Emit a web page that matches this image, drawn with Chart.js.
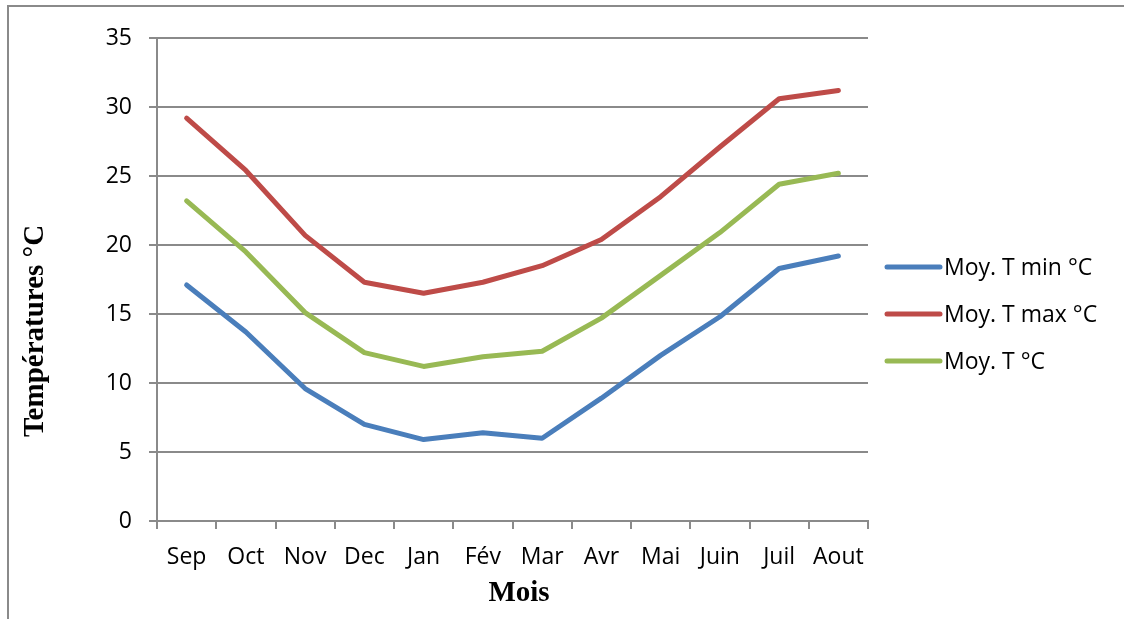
<!DOCTYPE html>
<html>
<head>
<meta charset="utf-8">
<script src="https://cdn.jsdelivr.net/npm/chart.js@4/dist/chart.umd.min.js"></script>
<style>
  html, body { margin: 0; padding: 0; background: #fff; }
  #wrap { position: relative; width: 1124px; height: 619px; overflow: hidden; }
  #frame { position: absolute; left: 7px; top: 5px; width: 1200px; height: 700px;
           border-left: 2px solid #8a8a8a; border-top: 2px solid #8a8a8a; }
  canvas { position: absolute; left: 0; top: 0; }
</style>
</head>
<body>
<div id="wrap">
  <div id="frame"></div>
  <canvas id="c" width="1124" height="619"></canvas>
</div>
<script>
// Monthly mean temperatures (°C), September to August
const months = ['Sep', 'Oct', 'Nov', 'Dec', 'Jan', 'Fév', 'Mar', 'Avr', 'Mai', 'Juin', 'Juil', 'Aout'];
const tMin = [17.1, 13.7, 9.6, 7.0, 5.9, 6.4, 6.0, 8.9, 12.0, 14.8, 18.3, 19.2];
const tMax = [29.2, 25.4, 20.7, 17.3, 16.5, 17.3, 18.5, 20.4, 23.5, 27.1, 30.6, 31.2];
const tMoy = [23.2, 19.5, 15.1, 12.2, 11.2, 11.9, 12.3, 14.7, 17.8, 20.9, 24.4, 25.2];
const seriesNames = ['Moy. T min °C', 'Moy. T max °C', 'Moy. T °C'];
const seriesColors = ['#4a7ebb', '#be4b48', '#98b954'];
const yTicksMin = 0, yTicksMax = 35, yStep = 5;
const xTitle = 'Mois';
const yTitle = 'Températures °C';

const tickFont = { family: "'Open Sans', 'Noto Sans', sans-serif", size: 23 };
const titleFont = "bold 29px 'Liberation Serif', 'DejaVu Serif', serif";
const gridColor = '#8a8a8a';

// Legend on the right and axis titles, drawn on the canvas
const extras = {
  id: 'extras',
  afterDraw(chart) {
    const ctx = chart.ctx;
    ctx.save();
    // legend
    chart.data.datasets.forEach((ds, i) => {
      const y = 267 + i * 47;
      ctx.strokeStyle = ds.borderColor;
      ctx.lineWidth = 5;
      ctx.lineCap = 'round';
      ctx.beginPath();
      ctx.moveTo(887, y);
      ctx.lineTo(940, y);
      ctx.stroke();
      ctx.fillStyle = '#000';
      ctx.font = tickFont.size + 'px ' + tickFont.family;
      ctx.textAlign = 'left';
      ctx.textBaseline = 'middle';
      ctx.fillText(ds.label, 944, y + 1);
    });
    // axis titles
    ctx.fillStyle = '#000';
    ctx.font = titleFont;
    ctx.textAlign = 'center';
    ctx.textBaseline = 'middle';
    ctx.fillText(xTitle, 519, 594);
    ctx.translate(36, 331);
    ctx.rotate(-Math.PI / 2);
    ctx.fillText(yTitle, 0, 0);
    ctx.restore();
  }
};

new Chart(document.getElementById('c'), {
  type: 'line',
  data: {
    labels: months,
    datasets: [tMin, tMax, tMoy].map((vals, i) => ({
      label: seriesNames[i],
      data: vals,
      borderColor: seriesColors[i],
      backgroundColor: seriesColors[i],
      borderWidth: 5,
      pointRadius: 0,
      pointHoverRadius: 0,
      tension: 0,
      borderCapStyle: 'round',
      borderJoinStyle: 'round',
      fill: false
    }))
  },
  options: {
    responsive: false,
    animation: false,
    devicePixelRatio: 1,
    layout: { padding: { top: 38, right: 256, left: 0, bottom: 0 } },
    plugins: { legend: { display: false }, tooltip: { enabled: false } },
    scales: {
      x: {
        type: 'category',
        offset: true,
        afterFit(s) { s.height = 98; },
        grid: { display: true, drawOnChartArea: false, offset: true, tickLength: 8, color: gridColor, lineWidth: 2 },
        border: { display: true, color: gridColor, width: 2 },
        ticks: { font: tickFont, color: '#000', padding: 15, maxRotation: 0, autoSkip: false }
      },
      y: {
        min: yTicksMin,
        max: yTicksMax,
        afterFit(s) { s.width = 157; },
        grid: { color: gridColor, lineWidth: 2, tickLength: 8 },
        border: { display: true, color: gridColor, width: 2 },
        ticks: { stepSize: yStep, font: tickFont, color: '#000', padding: 17 }
      }
    }
  },
  plugins: [extras]
});
</script>
</body>
</html>
